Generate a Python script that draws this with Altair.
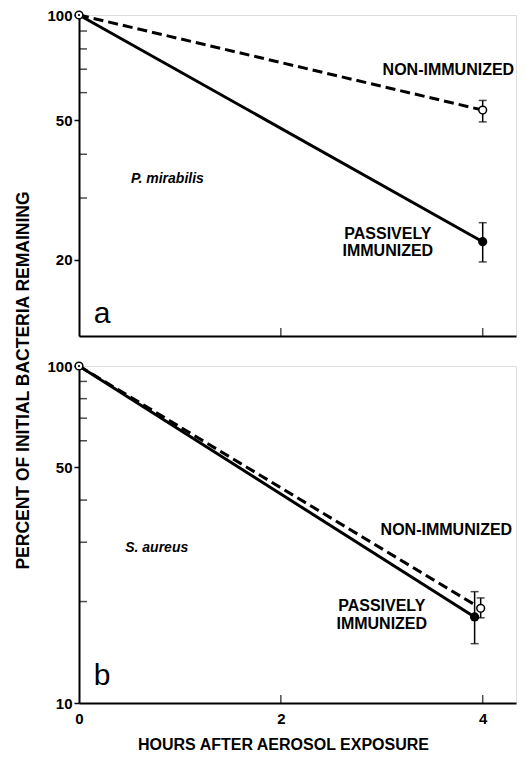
import altair as alt
import pandas as pd

FONT = "Liberation Sans"

# ---------------- data ----------------
# Panel a: P. mirabilis
A_NON_HOURS = [0, 4.0]
A_NON = [100, 53.5]
A_NON_LO = [None, 49.5]
A_NON_HI = [None, 57.0]
A_PAS_HOURS = [0, 4.0]
A_PAS = [100, 22.5]
A_PAS_LO = [None, 19.7]
A_PAS_HI = [None, 25.5]

# Panel b: S. aureus
B_NON_HOURS = [0, 3.98]
B_NON = [100, 19.1]
B_NON_LO = [None, 17.9]
B_NON_HI = [None, 20.5]
B_PAS_HOURS = [0, 3.92]
B_PAS = [100, 18.0]
B_PAS_LO = [None, 15.0]
B_PAS_HI = [None, 21.4]

X_DOMAIN = [0, 4.33]
X_TICKS = [2, 4]
X_LABELS = [0, 2, 4]

A_YMIN = 12.1
A_YLABELS = [100, 50, 20]
A_MINOR = [90, 80, 70, 60, 40, 30]

B_YMIN = 10
B_YLABELS = [100, 50, 10]
B_MINOR = [90, 80, 70, 60, 40, 30, 20]

# annotations (position in data units)
A_ANN_TEXT = ["NON-IMMUNIZED", "PASSIVELY", "IMMUNIZED"]
A_ANN_X = [3.66, 3.06, 3.06]
A_ANN_Y = [67.4, 22.9, 20.5]
A_SPECIES = "P. mirabilis"
A_SPECIES_X = 0.876
A_SPECIES_Y = 33.1
A_LETTER = "a"
A_LETTER_X = 0.23
A_LETTER_Y = 13.2

B_ANN_TEXT = ["NON-IMMUNIZED", "PASSIVELY", "IMMUNIZED"]
B_ANN_X = [3.64, 3.0, 3.0]
B_ANN_Y = [31.5, 18.75, 16.6]
B_SPECIES = "S. aureus"
B_SPECIES_X = 0.77
B_SPECIES_Y = 28.1
B_LETTER = "b"
B_LETTER_X = 0.23
B_LETTER_Y = 11.3

Y_TITLE = "PERCENT OF INITIAL BACTERIA REMAINING"
X_TITLE = "HOURS AFTER AEROSOL EXPOSURE"


def panel(non_h, non_v, non_lo, non_hi, pas_h, pas_v, pas_lo, pas_hi,
          ymin, ylabels, minor, show_xlabels, ann_text, ann_x, ann_y,
          sp_text, sp_x, sp_y, let_text, let_x, let_y, height, ytitle):
    xs = alt.Scale(domain=X_DOMAIN, nice=False, zero=False)
    ys = alt.Scale(type="log", domain=[ymin, 100], nice=False)

    if show_xlabels:
        xaxis = alt.Axis(values=X_LABELS, format="d", ticks=False,
                         labelPadding=8, labelFont=FONT, labelFontSize=15,
                         labelFontWeight="bold", labelColor="black",
                         domainColor="black", domainWidth=2, grid=False,
                         title=X_TITLE, titleFont=FONT, titleFontSize=16,
                         titleFontWeight="bold", titleColor="black",
                         titlePadding=10, titleX=204, labelFlush=False)
    else:
        xaxis = alt.Axis(labels=False, ticks=False, domainColor="black",
                         domainWidth=2, grid=False, title=None)

    yargs = dict(values=ylabels, format="d", tickSize=5, tickWidth=1.5,
                 tickColor="black", labelPadding=2, labelFont=FONT,
                 labelFontSize=15, labelFontWeight="bold", labelColor="black",
                 domainColor="black", domainWidth=2, grid=False,
                 labelFlush=False)
    if ytitle:
        yargs.update(title=Y_TITLE, titleFont=FONT, titleFontSize=17.5,
                     titleFontWeight="bold", titleColor="black", titleAngle=-90,
                     titleX=-56, titleY=365, titleAlign="center",
                     titleBaseline="middle")
    else:
        yargs.update(title=None)
    yaxis = alt.Axis(**yargs)

    def X(f):
        return alt.X(f, type="quantitative", scale=xs, axis=xaxis)

    def Y(f):
        return alt.Y(f, type="quantitative", scale=ys, axis=yaxis)

    non = pd.DataFrame({"hours": non_h, "pct": non_v, "lo": non_lo, "hi": non_hi})
    pas = pd.DataFrame({"hours": pas_h, "pct": pas_v, "lo": pas_lo, "hi": pas_hi})
    err = pd.concat([non, pas]).dropna()

    line_pas = alt.Chart(pas).mark_line(color="black", strokeWidth=3).encode(
        x=X("hours"), y=Y("pct"))
    line_non = alt.Chart(non).mark_line(color="black", strokeWidth=3,
                                        strokeDash=[10, 5]).encode(
        x=X("hours"), y=Y("pct"))
    bars = alt.Chart(err).mark_rule(color="black", strokeWidth=1.5).encode(
        x=X("hours"), y=Y("lo"), y2="hi")
    cap_lo = alt.Chart(err).mark_tick(orient="horizontal", color="black",
                                      size=8, thickness=1.5).encode(
        x=X("hours"), y=Y("lo"))
    cap_hi = alt.Chart(err).mark_tick(orient="horizontal", color="black",
                                      size=8, thickness=1.5).encode(
        x=X("hours"), y=Y("hi"))
    pas_pts = alt.Chart(pas.iloc[1:]).mark_point(filled=True, color="black",
                                                opacity=1, size=85).encode(
        x=X("hours"), y=Y("pct"))
    non_pts = alt.Chart(non).mark_point(filled=True, fill="white",
                                        stroke="black", strokeWidth=1.5,
                                        opacity=1, size=60).encode(
        x=X("hours"), y=Y("pct"))
    origin_dot = alt.Chart(pas.iloc[:1]).mark_point(filled=True, color="black",
                                                   opacity=1, size=5).encode(
        x=X("hours"), y=Y("pct"))

    ytick_df = pd.DataFrame({"v": minor})
    yticks = alt.Chart(ytick_df).mark_tick(orient="horizontal", color="black",
                                           size=8, thickness=1.5,
                                           xOffset=4).encode(
        y=Y("v"), x=alt.datum(0))
    xtick_df = pd.DataFrame({"v": X_TICKS})
    xticks = alt.Chart(xtick_df).mark_tick(orient="vertical", color="black",
                                           size=8, thickness=1.5,
                                           yOffset=-4).encode(
        x=X("v"), y=alt.datum(ymin))

    ann = pd.DataFrame({"t": ann_text, "x": ann_x, "y": ann_y})
    ann_layer = alt.Chart(ann).mark_text(font=FONT, fontSize=16,
                                         fontWeight="bold", color="black",
                                         align="center",
                                         baseline="alphabetic").encode(
        x=X("x"), y=Y("y"), text="t:N")
    sp = pd.DataFrame({"t": [sp_text], "x": [sp_x], "y": [sp_y]})
    sp_layer = alt.Chart(sp).mark_text(font=FONT, fontSize=14,
                                       fontStyle="italic", fontWeight="bold",
                                       color="black", align="center",
                                       baseline="alphabetic").encode(
        x=X("x"), y=Y("y"), text="t:N")
    le = pd.DataFrame({"t": [let_text], "x": [let_x], "y": [let_y]})
    le_layer = alt.Chart(le).mark_text(font=FONT, fontSize=30, color="black",
                                       align="center",
                                       baseline="alphabetic").encode(
        x=X("x"), y=Y("y"), text="t:N")

    return alt.layer(
        yticks, xticks, line_non, line_pas, bars, cap_lo, cap_hi,
        pas_pts, non_pts, origin_dot, ann_layer, sp_layer, le_layer
    ).properties(width=437, height=height)


pa = panel(A_NON_HOURS, A_NON, A_NON_LO, A_NON_HI,
           A_PAS_HOURS, A_PAS, A_PAS_LO, A_PAS_HI,
           A_YMIN, A_YLABELS, A_MINOR, False,
           A_ANN_TEXT, A_ANN_X, A_ANN_Y,
           A_SPECIES, A_SPECIES_X, A_SPECIES_Y,
           A_LETTER, A_LETTER_X, A_LETTER_Y, 321, True)
pb = panel(B_NON_HOURS, B_NON, B_NON_LO, B_NON_HI,
           B_PAS_HOURS, B_PAS, B_PAS_LO, B_PAS_HI,
           B_YMIN, B_YLABELS, B_MINOR, True,
           B_ANN_TEXT, B_ANN_X, B_ANN_Y,
           B_SPECIES, B_SPECIES_X, B_SPECIES_Y,
           B_LETTER, B_LETTER_X, B_LETTER_Y, 337, False)

chart = alt.vconcat(pa, pb, spacing=30, bounds="flush").properties(
    padding={"left": 13, "top": 7, "right": 5, "bottom": 5}
).configure_view(stroke=None).configure(background="white")

chart.save("out.html", embed_options={"renderer": "svg", "actions": False})
